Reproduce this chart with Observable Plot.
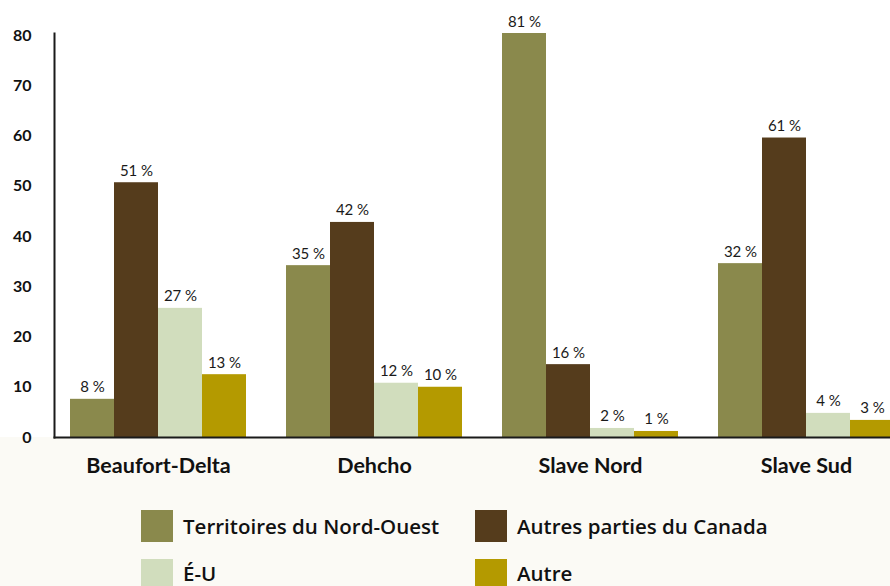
<!DOCTYPE html>
<html>
<head>
<meta charset="utf-8">
<script src="https://cdn.jsdelivr.net/npm/d3@7"></script>
<script src="https://cdn.jsdelivr.net/npm/@observablehq/plot@0.6"></script>
<style>
  html, body { margin: 0; padding: 0; background: #fbfaf5; overflow: hidden; }
  #wrap { position: relative; width: 890px; height: 586px; font-family: Lato, "Open Sans", sans-serif; overflow: hidden; }
  #chart svg { display: block; background: linear-gradient(to bottom, #ffffff 0, #ffffff 437px, #fbfaf5 437px); }
  .item { position: absolute; display: flex; align-items: center; height: 32px; font-family: "Open Sans", Lato, sans-serif; font-size: 20.5px; font-weight: 600; color: #111; white-space: nowrap; line-height: 1; }
  .item.low span { position: relative; top: -2px; }
  .sw { width: 32px; height: 32px; margin-right: 10px; flex: none; }
</style>
</head>
<body>
<div id="wrap">
  <div id="chart"></div>
  <div id="legend"></div>
</div>
<script>
const regions = ["Beaufort-Delta", "Dehcho", "Slave Nord", "Slave Sud"];
const series = ["Territoires du Nord-Ouest", "Autres parties du Canada", "É-U", "Autre"];
const colors = ["#8a894c", "#553c1c", "#d1ddbd", "#b49a00"];

// bar heights, per series, in region order
const tnoValues    = [7.6, 34.2, 80.4, 34.6];
const canadaValues = [50.7, 42.8, 14.5, 59.6];
const euValues     = [25.7, 10.8, 1.8, 4.8];
const autreValues  = [12.5, 10.0, 1.2, 3.4];

// printed labels
const tnoLabels    = ["8 %", "35 %", "81 %", "32 %"];
const canadaLabels = ["51 %", "42 %", "16 %", "61 %"];
const euLabels     = ["27 %", "12 %", "2 %", "4 %"];
const autreLabels  = ["13 %", "10 %", "1 %", "3 %"];

const yTicks = [0, 10, 20, 30, 40, 50, 60, 70, 80];

const allValues = [tnoValues, canadaValues, euValues, autreValues];
const allLabels = [tnoLabels, canadaLabels, euLabels, autreLabels];
const rows = regions.flatMap((r, i) => series.map((s, j) => ({
  region: r, series: s, value: allValues[j][i], label: allLabels[j][i]
})));

const chart = Plot.plot({
  width: 890,
  height: 490,
  marginLeft: 54,
  marginRight: -4,
  marginTop: 33,
  marginBottom: 53,
  style: { fontFamily: "Lato, 'Open Sans', sans-serif", color: "#111", overflow: "hidden" },
  fx: { domain: regions, paddingInner: 24 / 216, paddingOuter: 0, round: false, label: null, axis: null },
  x: { domain: series, padding: 0, insetLeft: 16, round: false, axis: null },
  y: { domain: [0, 80.4], axis: null },
  color: { domain: series, range: colors },
  marks: [
    Plot.barY(rows, { fx: "region", x: "series", y: "value", fill: "series" }),
    Plot.text(rows, { fx: "region", x: "series", y: "value", text: "label", lineAnchor: "bottom", dy: -7, fontSize: 15, fill: "#1a1a1a" }),
    Plot.axisFx({ anchor: "bottom", tickSize: 0, tickPadding: 20, dx: 8, fontSize: 21.5, fontWeight: 700, label: null }),
    Plot.axisY({ ticks: yTicks, tickSize: 0, tickPadding: 23, fontSize: 16, fontWeight: 700, label: null }),
    Plot.frame({ anchor: "left", facet: "super", stroke: "#1a1a1a", strokeWidth: 2 }),
    Plot.frame({ anchor: "bottom", facet: "super", stroke: "#1a1a1a", strokeWidth: 2 })
  ]
});
document.getElementById("chart").append(chart);

const legendPos = [[141, 510], [475, 510], [141, 559], [475, 559]];
const legend = document.getElementById("legend");
series.forEach((s, i) => {
  const item = document.createElement("div");
  item.className = i >= 2 ? "item low" : "item";
  item.style.left = legendPos[i][0] + "px";
  item.style.top = legendPos[i][1] + "px";
  const sw = document.createElement("div");
  sw.className = "sw";
  sw.style.background = colors[i];
  const t = document.createElement("span");
  t.textContent = s;
  item.append(sw, t);
  legend.append(item);
});
</script>
</body>
</html>
